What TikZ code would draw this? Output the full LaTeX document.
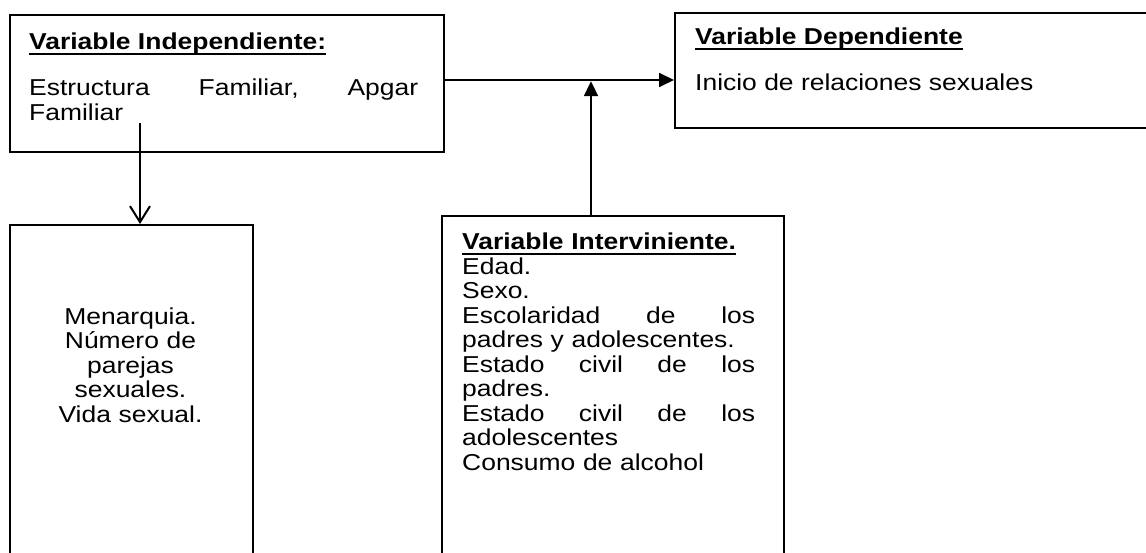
\documentclass[tikz,border=0pt]{standalone}
\usepackage{fontspec}
\setmainfont{Liberation Sans}[FakeStretch=1.15]
\usetikzlibrary{arrows.meta}
\newcommand{\myuline}[1]{\setbox0\hbox{#1}\rlap{\rule[-5pt]{\wd0}{2.2pt}}\box0}
\newcommand{\justline}[1]{\leavevmode\hbox to \linewidth{#1}}
\tikzset{
  boxshape/.style={draw=black, line width=1.8pt, fill=none, inner sep=0pt, anchor=north west},
  txt/.style={inner sep=0pt, font=\fontsize{23}{24.5}\selectfont, text=black},
  conn/.style={line width=2pt, draw=black},
}
\begin{document}
\begin{tikzpicture}[x=1pt,y=1pt]
\clip (0,0) rectangle (1146,-553);
\fill[white] (0,0) rectangle (1146,-553);
% boxes
\node[boxshape, minimum width=434pt, minimum height=137pt] (ind) at (9,-14) {};
\node[boxshape, minimum width=500pt, minimum height=115pt] (dep) at (674,-12) {};
\node[boxshape, minimum width=243pt, minimum height=360pt] (men) at (9,-224) {};
\node[boxshape, minimum width=342pt, minimum height=360pt] (int) at (441,-215) {};
% texts
\node[txt, anchor=base west] (indt) at (29,-50) {\textbf{\myuline{Variable Independiente:}}};
\node[txt, anchor=base west, text width=389pt, align=left] (indb) at (29,-96)
  {\justline{Estructura\hfill Familiar,\hfill Apgar}\\Familiar};
\node[txt, anchor=base west] (dept) at (695,-45) {\textbf{\myuline{Variable Dependiente}}};
\node[txt, anchor=base west] (depb) at (695,-91) {Inicio de relaciones sexuales};
\node[txt, anchor=base, text width=240pt, align=center] (ment) at (130.5,-324)
  {Menarquia.\\Número de\\parejas\\sexuales.\\Vida sexual.};
\node[txt, anchor=base west, text width=293pt, align=left] (intt) at (462,-250)
  {\textbf{\myuline{Variable Interviniente.}}\\
   Edad.\\
   Sexo.\\
   \justline{Escolaridad\hfill de\hfill los}\\
   padres y adolescentes.\\
   \justline{Estado\hfill civil\hfill de\hfill los}\\
   padres.\\
   \justline{Estado\hfill civil\hfill de\hfill los}\\
   adolescentes\\
   Consumo de alcohol};
% connectors
\coordinate (jn) at (591,-80);
\coordinate (fam) at (140,-123);
\draw[conn, -{Triangle[length=15pt,width=14pt]}] (ind.east |- jn) -- (dep.west |- jn);
\draw[conn, -{Triangle[length=15pt,width=14pt]}, shorten >=1.2pt] (int.north -| jn) -- (jn);
\draw[conn, -{Straight Barb[length=16pt,width=20pt,line width=2pt]}] (fam) -- (fam |- men.north);
\end{tikzpicture}
\end{document}
